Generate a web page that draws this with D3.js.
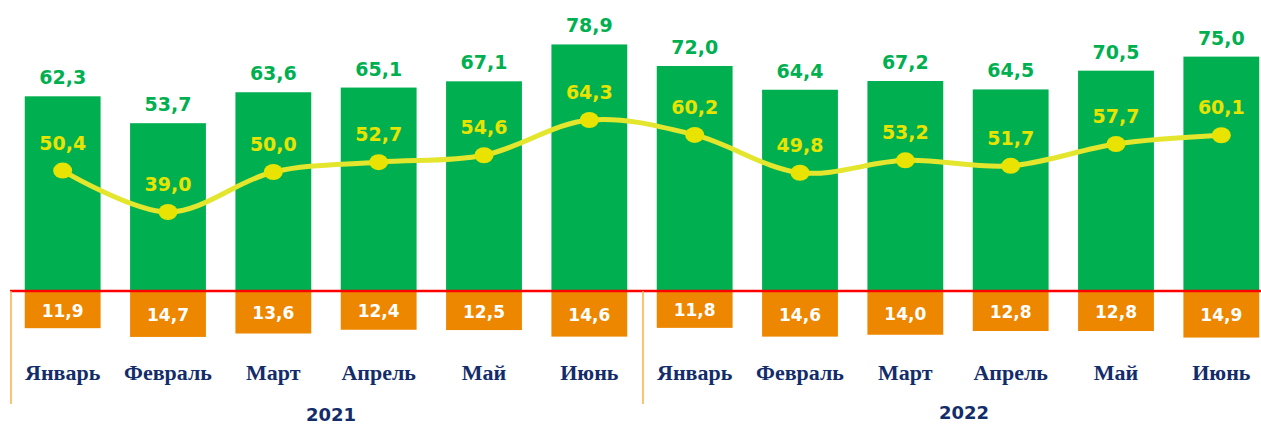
<!DOCTYPE html>
<html>
<head>
<meta charset="utf-8">
<script src="https://cdn.jsdelivr.net/npm/d3@7"></script>
<style>
  body { margin: 0; background: #fff; }
  svg { display: block; }
</style>
</head>
<body>
<div class="svg-container"></div>
<script>
document.addEventListener("DOMContentLoaded", () => {

  let months = ["Январь","Февраль","Март","Апрель","Май","Июнь","Январь","Февраль","Март","Апрель","Май","Июнь"];
  let years = ["2021", "2022"];
  let greenValues = [62.3, 53.7, 63.6, 65.1, 67.1, 78.9, 72.0, 64.4, 67.2, 64.5, 70.5, 75.0];
  let orangeValues = [11.9, 14.7, 13.6, 12.4, 12.5, 14.6, 11.8, 14.6, 14.0, 12.8, 12.8, 14.9];
  let lineValues = [50.4, 39.0, 50.0, 52.7, 54.6, 64.3, 60.2, 49.8, 53.2, 51.7, 57.7, 60.1];

  let width = 1261,
  height = 425,
  baseY = 291;

  const fmt = v => v.toFixed(1).replace(".", ",");
  const numFont = "'DejaVu Sans', Verdana, sans-serif";

  let svg = d3.select(".svg-container").append("svg")
    .attr("width", width)
    .attr("height", height);

  const keys = d3.range(months.length);

  const xScale = d3.scaleBand()
    .domain(keys)
    .range([10, 1274])
    .paddingInner(0.28)
    .paddingOuter(0.14);

  // green bars go up, orange bars go down from the same baseline
  const barScale = d3.scaleLinear()
    .domain([0, 80])
    .range([0, 250]);

  const lineScale = d3.scaleLinear()
    .domain([39, 64.3])
    .range([212, 120]);

  const cx = i => xScale(i) + xScale.bandwidth() / 2;

  svg.selectAll("rect.green")
    .data(greenValues)
    .enter()
    .append("rect")
    .attr("class", "green")
    .attr("x", (d, i) => xScale(i))
    .attr("y", d => baseY - barScale(d))
    .attr("width", xScale.bandwidth())
    .attr("height", d => barScale(d))
    .style("fill", "#00b050");

  svg.selectAll("rect.orange")
    .data(orangeValues)
    .enter()
    .append("rect")
    .attr("class", "orange")
    .attr("x", (d, i) => xScale(i))
    .attr("y", baseY)
    .attr("width", xScale.bandwidth())
    .attr("height", d => barScale(d))
    .style("fill", "#ee8700");

  //red baseline
  svg.append("line")
    .attr("x1", 10)
    .attr("x2", width)
    .attr("y1", baseY)
    .attr("y2", baseY)
    .style("stroke", "#ff0000")
    .style("stroke-width", 2.5);

  //year separators
  let sepX = [11, 643];
  svg.selectAll("line.sep")
    .data(sepX)
    .enter()
    .append("line")
    .attr("class", "sep")
    .attr("x1", d => d)
    .attr("x2", d => d)
    .attr("y1", baseY)
    .attr("y2", 404)
    .style("stroke", "#f7b04a")
    .style("stroke-width", 1.5);

  svg.selectAll("text.green")
    .data(greenValues)
    .enter()
    .append("text")
    .attr("class", "green")
    .text(d => fmt(d))
    .attr("x", (d, i) => cx(i))
    .attr("y", d => baseY - barScale(d) - 12)
    .attr("text-anchor", "middle")
    .style("font-family", numFont)
    .style("font-weight", "bold")
    .style("font-size", "19px")
    .style("fill", "#00b050");

  svg.selectAll("text.orange")
    .data(orangeValues)
    .enter()
    .append("text")
    .attr("class", "orange")
    .text(d => fmt(d))
    .attr("x", (d, i) => cx(i))
    .attr("y", d => baseY + barScale(d) / 2 + 7)
    .attr("text-anchor", "middle")
    .style("font-family", numFont)
    .style("font-weight", "bold")
    .style("font-size", "17px")
    .style("fill", "#ffffff");

  //yellow line
  const line = d3.line()
    .x((d, i) => cx(i))
    .y(d => lineScale(d))
    .curve(d3.curveCatmullRom.alpha(0.5));

  svg.append("path")
    .datum(lineValues)
    .attr("d", line)
    .style("fill", "none")
    .style("stroke", "#e4e62e")
    .style("stroke-width", 5);

  svg.selectAll("ellipse.dot")
    .data(lineValues)
    .enter()
    .append("ellipse")
    .attr("class", "dot")
    .attr("cx", (d, i) => cx(i))
    .attr("cy", d => lineScale(d))
    .attr("rx", 9.5)
    .attr("ry", 8)
    .style("fill", "#e8e300");

  svg.selectAll("text.yellow")
    .data(lineValues)
    .enter()
    .append("text")
    .attr("class", "yellow")
    .text(d => fmt(d))
    .attr("x", (d, i) => cx(i))
    .attr("y", d => lineScale(d) - 21)
    .attr("text-anchor", "middle")
    .style("font-family", numFont)
    .style("font-weight", "bold")
    .style("font-size", "19px")
    .style("fill", "#e8e300");

  //month labels, slightly widened like the original
  svg.selectAll("text.month")
    .data(months)
    .enter()
    .append("text")
    .attr("class", "month")
    .text(d => d)
    .attr("transform", (d, i) => "translate(" + cx(i) + ",380) scale(1.1,1)")
    .attr("text-anchor", "middle")
    .style("font-family", "'Liberation Serif', 'Times New Roman', serif")
    .style("font-weight", "bold")
    .style("font-size", "20px")
    .style("fill", "#132c6a");

  //year labels
  let yearPos = [{x: 331, y: 421}, {x: 964, y: 419}];
  svg.selectAll("text.year")
    .data(years)
    .enter()
    .append("text")
    .attr("class", "year")
    .text(d => d)
    .attr("x", (d, i) => yearPos[i].x)
    .attr("y", (d, i) => yearPos[i].y)
    .attr("text-anchor", "middle")
    .style("font-family", numFont)
    .style("font-weight", "bold")
    .style("font-size", "18px")
    .style("fill", "#132c6a");
})
</script>
</body>
</html>
